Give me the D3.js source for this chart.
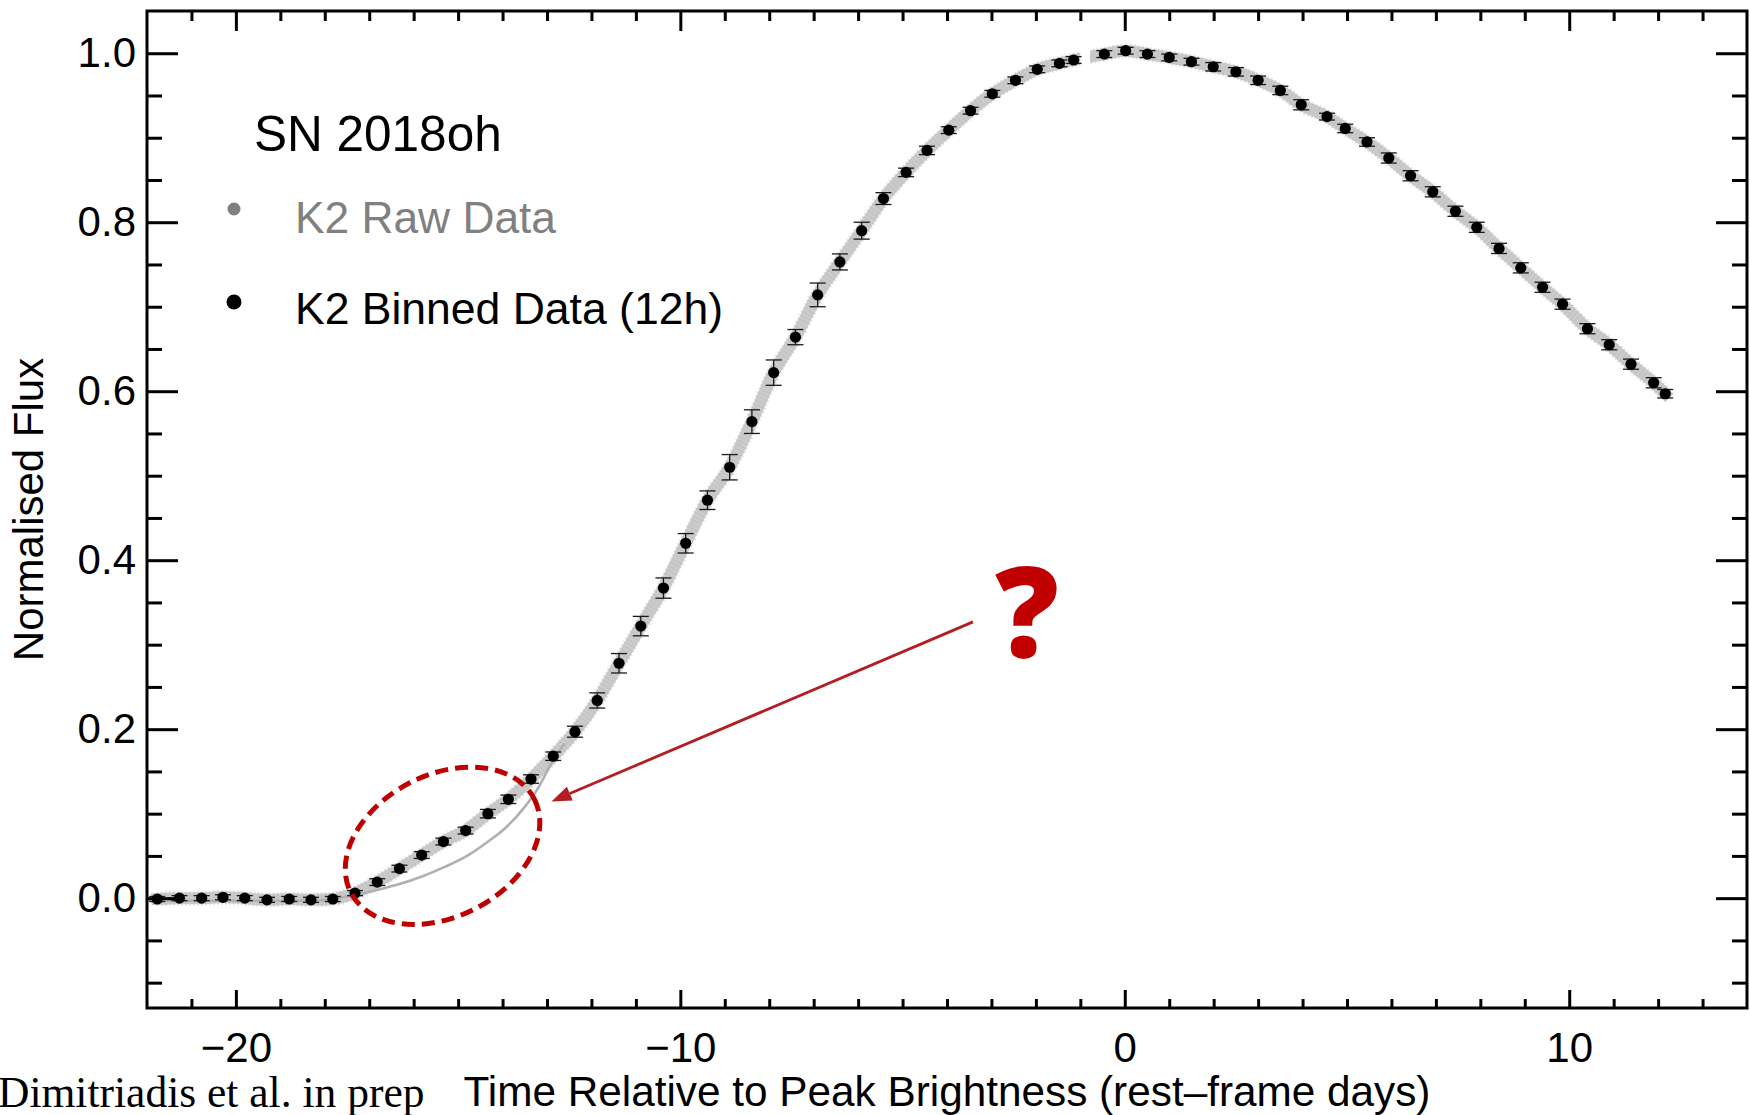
<!DOCTYPE html>
<html>
<head>
<meta charset="utf-8">
<script src="https://cdn.jsdelivr.net/npm/d3@7"></script>
<style>
  html, body { margin: 0; padding: 0; background: #fff; }
  svg { display: block; }
</style>
</head>
<body>
<div id="chart"></div>
<script>
// K2 binned light curve (12h bins)
const binDays = [
  -21.77, -21.27, -20.77, -20.29, -19.80, -19.30, -18.80, -18.31, -17.82, -17.32,
  -16.82, -16.32, -15.82, -15.33, -14.83, -14.33, -13.87, -13.36, -12.86, -12.37,
  -11.87, -11.38, -10.89, -10.38, -9.88, -9.39, -8.89, -8.39, -7.90, -7.41,
  -6.91, -6.41, -5.92, -5.43, -4.92, -4.45, -3.96, -3.47, -2.98, -2.46,
  -1.97, -1.47, -1.15, -0.46, 0.02, 0.51, 1.00, 1.50, 1.99, 2.50,
  3.00, 3.50, 3.97, 4.55, 4.96, 5.45, 5.94, 6.43, 6.93, 7.44,
  7.92, 8.42, 8.91, 9.40, 9.85, 10.41, 10.90, 11.39, 11.90, 12.16
];
const binFlux = [
  -0.001, 0.000, 0.000, 0.001, 0.000, -0.002, -0.001, -0.002, -0.001, 0.006,
  0.019, 0.035, 0.051, 0.067, 0.080, 0.100, 0.117, 0.141, 0.168, 0.197,
  0.234, 0.278, 0.322, 0.367, 0.420, 0.471, 0.510, 0.564, 0.622, 0.664,
  0.714, 0.753, 0.790, 0.828, 0.859, 0.885, 0.909, 0.932, 0.952, 0.968,
  0.981, 0.988, 0.992, 0.999, 1.003, 0.999, 0.995, 0.990, 0.984, 0.978,
  0.968, 0.956, 0.939, 0.925, 0.911, 0.895, 0.876, 0.855, 0.836, 0.813,
  0.794, 0.769, 0.746, 0.723, 0.703, 0.674, 0.655, 0.632, 0.610, 0.597
];
const binErr = [
  0.003, 0.003, 0.003, 0.003, 0.003, 0.003, 0.003, 0.003, 0.003, 0.003,
  0.004, 0.004, 0.004, 0.004, 0.004, 0.005, 0.005, 0.005, 0.005, 0.0065,
  0.009, 0.0115, 0.0115, 0.012, 0.0115, 0.011, 0.015, 0.014, 0.015, 0.009,
  0.014, 0.0095, 0.010, 0.007, 0.005, 0.005, 0.004, 0.004, 0.004, 0.004,
  0.004, 0.004, 0.004, 0.004, 0.004, 0.004, 0.004, 0.004, 0.005, 0.005,
  0.005, 0.005, 0.006, 0.004, 0.005, 0.005, 0.006, 0.006, 0.006, 0.006,
  0.006, 0.006, 0.006, 0.006, 0.006, 0.006, 0.006, 0.006, 0.006, 0.005
];

// gap in the raw K2 data (days)
const rawGap = [-1.0, -0.78];

// grey model curve (early rise)
const modelDays = [-22.0, -20.0, -18.6, -18.0, -17.6, -17.3, -16.8, -16.3, -15.8, -15.3, -14.8, -14.3, -14.0, -13.5, -13.18, -12.9, -12.6];
const modelFlux = [-0.003, -0.003, -0.003, -0.002, 0.001, 0.004, 0.010, 0.017, 0.026, 0.037, 0.050, 0.068, 0.080, 0.108, 0.132, 0.160, 0.183];

// axes
const xDomain = [-22, 14];
const yDomain = [-0.13, 1.05];
const xMajor = [-20, -10, 0, 10];
const xMinor = d3.range(-21, 14, 1);
const yMajor = [0, 0.2, 0.4, 0.6, 0.8, 1.0];
const yMinor = [-0.1, -0.05, 0.05, 0.1, 0.15, 0.25, 0.3, 0.35, 0.45, 0.5, 0.55, 0.65, 0.7, 0.75, 0.85, 0.9, 0.95];

// annotation anchors in data units
const circleCenter = [-15.35, 0.062];
const arrowFrom = [-3.415, 0.327];
const arrowTo = [-12.90, 0.1145];
const questionAt = [-2.2, 0.285];

const W = 1750, H = 1115;
const plot = { left: 147, right: 1747, top: 11, bottom: 1008 };
const sans = "'Liberation Sans', Arial, Helvetica, sans-serif";

const svg = d3.select("#chart").append("svg")
  .attr("width", W)
  .attr("height", H)
  .attr("viewBox", `0 0 ${W} ${H}`);

const x = d3.scaleLinear().domain(xDomain).range([plot.left, plot.right]);
const y = d3.scaleLinear().domain(yDomain).range([plot.bottom, plot.top]);

const defs = svg.append("defs");
defs.append("clipPath").attr("id", "clip")
  .append("rect")
  .attr("x", plot.left).attr("y", plot.top)
  .attr("width", plot.right - plot.left).attr("height", plot.bottom - plot.top);

// mask that cuts the gap out of the raw band
const mask = defs.append("mask").attr("id", "gapmask");
mask.append("rect").attr("x", 0).attr("y", 0).attr("width", W).attr("height", H).attr("fill", "#fff");
mask.append("rect")
  .attr("x", x(rawGap[0])).attr("y", 0)
  .attr("width", x(rawGap[1]) - x(rawGap[0])).attr("height", H)
  .attr("fill", "#000");

const data = binDays.map((d, i) => ({ t: d, f: binFlux[i], e: binErr[i] }));

const layer = svg.append("g").attr("clip-path", "url(#clip)");

// raw data band
const band = d3.line().x(d => x(d.t)).y(d => y(d.f)).curve(d3.curveMonotoneX);
const rawG = layer.append("g").attr("mask", "url(#gapmask)");
rawG.append("path")
  .datum(data)
  .attr("d", band)
  .attr("fill", "none")
  .attr("stroke", "#cbcbcb")
  .attr("stroke-width", 12)
  .attr("stroke-linecap", "square")
  .attr("stroke-linejoin", "round");
rawG.append("path")
  .datum(data)
  .attr("d", band)
  .attr("fill", "none")
  .attr("stroke", "#bdbdbd")
  .attr("stroke-width", 15)
  .attr("stroke-dasharray", "1.5 2.5")
  .attr("opacity", 0.45);

// model curve
const model = modelDays.map((d, i) => ({ t: d, f: modelFlux[i] }));
layer.append("path")
  .datum(model)
  .attr("d", d3.line().x(d => x(d.t)).y(d => y(d.f)).curve(d3.curveMonotoneX))
  .attr("fill", "none")
  .attr("stroke", "#b0b0b0")
  .attr("stroke-width", 2.6);

// error bars
const capW = 8;
const eb = layer.append("g").attr("stroke", "#1a1a1a").attr("stroke-width", 1.3);
eb.selectAll("line.v").data(data).join("line").attr("class", "v")
  .attr("x1", d => x(d.t)).attr("x2", d => x(d.t))
  .attr("y1", d => y(d.f - d.e)).attr("y2", d => y(d.f + d.e));
eb.selectAll("line.top").data(data).join("line").attr("class", "top")
  .attr("x1", d => x(d.t) - capW).attr("x2", d => x(d.t) + capW)
  .attr("y1", d => y(d.f + d.e)).attr("y2", d => y(d.f + d.e));
eb.selectAll("line.bot").data(data).join("line").attr("class", "bot")
  .attr("x1", d => x(d.t) - capW).attr("x2", d => x(d.t) + capW)
  .attr("y1", d => y(d.f - d.e)).attr("y2", d => y(d.f - d.e));

// binned points
layer.append("g").selectAll("circle").data(data).join("circle")
  .attr("cx", d => x(d.t))
  .attr("cy", d => y(d.f))
  .attr("r", 5.6)
  .attr("fill", "#000");

// axes: ticks point inwards on all four sides
function styleAxis(g, size) {
  g.select(".domain").remove();
  g.selectAll(".tick line").attr("stroke", "#000").attr("stroke-width", 3);
  g.attr("font-family", sans).attr("font-size", size);
  g.selectAll(".tick text").attr("fill", "#000");
}

svg.append("g").attr("transform", `translate(0,${plot.bottom})`)
  .call(d3.axisBottom(x).tickValues(xMajor).tickSize(-18).tickPadding(24).tickFormat(d3.format("d")))
  .call(g => styleAxis(g, 42));
svg.append("g").attr("transform", `translate(0,${plot.bottom})`)
  .call(d3.axisBottom(x).tickValues(xMinor.filter(v => !xMajor.includes(v))).tickSize(-9).tickFormat(""))
  .call(g => styleAxis(g, 10));
svg.append("g").attr("transform", `translate(0,${plot.top})`)
  .call(d3.axisTop(x).tickValues(xMajor).tickSize(-20).tickFormat(""))
  .call(g => styleAxis(g, 10));
svg.append("g").attr("transform", `translate(0,${plot.top})`)
  .call(d3.axisTop(x).tickValues(xMinor.filter(v => !xMajor.includes(v))).tickSize(-10).tickFormat(""))
  .call(g => styleAxis(g, 10));

svg.append("g").attr("transform", `translate(${plot.left},0)`)
  .call(d3.axisLeft(y).tickValues(yMajor).tickSize(-31).tickPadding(11).tickFormat(d3.format(".1f")))
  .call(g => styleAxis(g, 42));
svg.append("g").attr("transform", `translate(${plot.left},0)`)
  .call(d3.axisLeft(y).tickValues(yMinor).tickSize(-15).tickFormat(""))
  .call(g => styleAxis(g, 10));
svg.append("g").attr("transform", `translate(${plot.right},0)`)
  .call(d3.axisRight(y).tickValues(yMajor).tickSize(-31).tickFormat(""))
  .call(g => styleAxis(g, 10));
svg.append("g").attr("transform", `translate(${plot.right},0)`)
  .call(d3.axisRight(y).tickValues(yMinor).tickSize(-15).tickFormat(""))
  .call(g => styleAxis(g, 10));

// frame
svg.append("rect")
  .attr("x", plot.left).attr("y", plot.top)
  .attr("width", plot.right - plot.left).attr("height", plot.bottom - plot.top)
  .attr("fill", "none").attr("stroke", "#000").attr("stroke-width", 3);

// axis titles
svg.append("text")
  .attr("x", (plot.left + plot.right) / 2).attr("y", 1106)
  .attr("text-anchor", "middle")
  .attr("font-family", sans).attr("font-size", 42.3)
  .text("Time Relative to Peak Brightness (rest\u2013frame days)");
svg.append("text")
  .attr("transform", `translate(43,${(plot.top + plot.bottom) / 2}) rotate(-90)`)
  .attr("text-anchor", "middle")
  .attr("font-family", sans).attr("font-size", 42)
  .text("Normalised Flux");

// credit line
svg.append("text")
  .attr("x", -2).attr("y", 1107)
  .attr("font-family", "'Liberation Serif', 'Times New Roman', serif").attr("font-size", 43.5)
  .text("Dimitriadis et al. in prep");

// legend
svg.append("text").attr("x", 254).attr("y", 151)
  .attr("font-family", sans).attr("font-size", 49.5)
  .text("SN 2018oh");
svg.append("circle").attr("cx", 234).attr("cy", 209).attr("r", 6.5).attr("fill", "#808080");
svg.append("text").attr("x", 295).attr("y", 233)
  .attr("font-family", sans).attr("font-size", 44.3).attr("fill", "#808080")
  .text("K2 Raw Data");
svg.append("circle").attr("cx", 234).attr("cy", 302).attr("r", 7.5).attr("fill", "#000");
svg.append("text").attr("x", 295).attr("y", 324)
  .attr("font-family", sans).attr("font-size", 44.5)
  .text("K2 Binned Data (12h)");

// annotation: dashed ellipse, arrow and question mark
svg.append("ellipse")
  .attr("transform", `translate(${x(circleCenter[0])},${y(circleCenter[1])}) rotate(-27)`)
  .attr("rx", 103).attr("ry", 71)
  .attr("fill", "none")
  .attr("stroke", "#c00000")
  .attr("stroke-width", 5)
  .attr("stroke-dasharray", "13 7");

const ax0 = x(arrowFrom[0]), ay0 = y(arrowFrom[1]);
const ax1 = x(arrowTo[0]), ay1 = y(arrowTo[1]);
const ang = Math.atan2(ay1 - ay0, ax1 - ax0);
const headLen = 20, headHalf = 7.5;
const bx = ax1 - headLen * Math.cos(ang), by = ay1 - headLen * Math.sin(ang);
svg.append("line")
  .attr("x1", ax0).attr("y1", ay0).attr("x2", bx).attr("y2", by)
  .attr("stroke", "#b31e22").attr("stroke-width", 2.8);
svg.append("polygon")
  .attr("points", [
    [ax1, ay1],
    [bx + headHalf * Math.sin(ang), by - headHalf * Math.cos(ang)],
    [bx - headHalf * Math.sin(ang), by + headHalf * Math.cos(ang)]
  ].map(p => p.join(",")).join(" "))
  .attr("fill", "#b31e22");

svg.append("text")
  .attr("x", x(questionAt[0])).attr("y", y(questionAt[1]))
  .attr("text-anchor", "middle")
  .attr("font-family", "'Open Sans', sans-serif").attr("font-weight", 800).attr("font-size", 126)
  .attr("fill", "#c00000")
  .text("?");
</script>
</body>
</html>
